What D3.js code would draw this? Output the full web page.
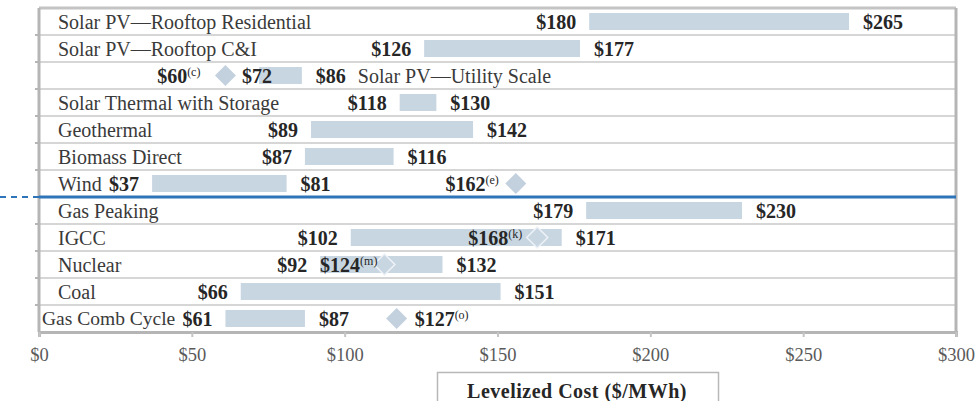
<!DOCTYPE html>
<html>
<head>
<meta charset="utf-8">
<script src="https://cdn.jsdelivr.net/npm/d3@7"></script>
<style>
  body { margin: 0; background: #fff; }
  svg { display: block; }
  text { font-family: "Liberation Serif", "DejaVu Serif", serif; }
</style>
</head>
<body>
<div id="chart"></div>
<script>
const categories = [
    "Solar PV\u2014Rooftop Residential",
    "Solar PV\u2014Rooftop C&I",
    "Solar PV\u2014Utility Scale",
    "Solar Thermal with Storage",
    "Geothermal",
    "Biomass Direct",
    "Wind",
    "Gas Peaking",
    "IGCC",
    "Nuclear",
    "Coal",
    "Gas Comb Cycle"
];
const lowValues = [180, 126, 72, 118, 89, 87, 37, 179, 102, 92, 66, 61];
const highValues = [265, 177, 86, 130, 142, 116, 81, 230, 171, 132, 151, 87];

// diamonds: row, labelled value, footnote, and where the diamond sits in the picture
const markerRows = ["Solar PV\u2014Utility Scale", "Wind", "IGCC", "Nuclear", "Gas Comb Cycle"];
const markerValues = [60, 162, 168, 124, 127];
const markerNotes = ["(c)", "(e)", "(k)", "(m)", "(o)"];
const markerDrawnAt = [61, 156, 163, 113, 117];

const tickValues = [0, 50, 100, 150, 200, 250, 300];
const axisTitle = "Levelized Cost ($/MWh)";

const width = 978, height = 401;
const barColor = "#c8d6e2";
// label offset from diamond centre (negative = label ends left of diamond)
const markerLabelGap = [-25, -17, -15, -7, 18];

const svg = d3.select("#chart").append("svg")
    .attr("width", width)
    .attr("height", height);

const x = d3.scaleLinear().domain([0, 300]).range([39, 956]);
const y = d3.scaleBand().domain(categories).range([8, 332]);
const bh = y.bandwidth() * 0.63;

// row separators
categories.forEach((c, i) => {
    if (i === 0) return;
    svg.append("line")
        .attr("x1", x(0)).attr("x2", x(300))
        .attr("y1", y(c)).attr("y2", y(c))
        .attr("stroke", "#d6d6d6").attr("stroke-width", 2);
    // little ticks on the left border
    svg.append("line")
        .attr("x1", x(0) - 4).attr("x2", x(0))
        .attr("y1", y(c)).attr("y2", y(c))
        .attr("stroke", "#b5b5b5").attr("stroke-width", 2);
});

// frame
svg.append("line").attr("x1", x(0)).attr("x2", x(300)).attr("y1", 8).attr("y2", 8)
    .attr("stroke", "#c4c4c4").attr("stroke-width", 3);
svg.append("line").attr("x1", x(0)).attr("x2", x(0)).attr("y1", 8).attr("y2", 332)
    .attr("stroke", "#b5b5b5").attr("stroke-width", 3);
svg.append("line").attr("x1", x(300)).attr("x2", x(300)).attr("y1", 8).attr("y2", 332)
    .attr("stroke", "#b5b5b5").attr("stroke-width", 3);

// blue divider between renewables and conventional
const divY = y("Gas Peaking");
svg.append("line").attr("x1", x(0)).attr("x2", x(300)).attr("y1", divY).attr("y2", divY)
    .attr("stroke", "#2e74b8").attr("stroke-width", 3);
svg.append("line").attr("x1", 0).attr("x2", x(0)).attr("y1", divY).attr("y2", divY)
    .attr("stroke", "#2e74b8").attr("stroke-width", 2).attr("stroke-dasharray", "6,5");

// bars
svg.selectAll("rect.bar")
    .data(categories)
    .join("rect")
    .attr("class", "bar")
    .attr("x", (d, i) => x(lowValues[i]))
    .attr("width", (d, i) => x(highValues[i]) - x(lowValues[i]))
    .attr("y", d => y(d) + (y.bandwidth() - bh) / 2)
    .attr("height", bh)
    .attr("fill", barColor);

const mid = d => y(d) + y.bandwidth() / 2;

// category labels
svg.selectAll("text.cat")
    .data(categories)
    .join("text")
    .attr("class", "cat")
    .attr("x", (d, i) => {
        if (d === "Gas Comb Cycle") return 42;
        if (d === "Solar PV\u2014Utility Scale") return x(highValues[i]) + 56;
        return 58;
    })
    .attr("y", d => mid(d))
    .attr("dy", "0.35em")
    .attr("font-size", d => d === "Gas Comb Cycle" ? 19.5 : 20)
    .attr("fill", "#3a3a3a")
    .text(d => d);

// low / high value labels
svg.selectAll("text.low")
    .data(categories)
    .join("text")
    .attr("class", "low")
    .attr("x", (d, i) => d === "Solar PV\u2014Utility Scale" ? x(lowValues[i]) + 13 : x(lowValues[i]) - 13)
    .attr("y", d => mid(d))
    .attr("dy", "0.35em")
    .attr("text-anchor", "end")
    .attr("font-size", 20)
    .attr("font-weight", "bold")
    .attr("fill", "#262626")
    .text((d, i) => "$" + lowValues[i]);

svg.selectAll("text.high")
    .data(categories)
    .join("text")
    .attr("class", "high")
    .attr("x", (d, i) => x(highValues[i]) + 14)
    .attr("y", d => mid(d))
    .attr("dy", "0.35em")
    .attr("font-size", 20)
    .attr("font-weight", "bold")
    .attr("fill", "#262626")
    .text((d, i) => "$" + highValues[i]);

// diamonds
const dm = 10.5;
markerRows.forEach((row, i) => {
    const cx = x(markerDrawnAt[i]);
    const cy = mid(row);
    const r = categories.indexOf(row);
    const onBar = markerDrawnAt[i] > lowValues[r] && markerDrawnAt[i] < highValues[r];
    svg.append("path")
        .attr("d", `M${cx},${cy - dm}L${cx + dm},${cy}L${cx},${cy + dm}L${cx - dm},${cy}Z`)
        .attr("fill", onBar ? barColor : "#c3d1de")
        .attr("stroke", onBar ? "#eef2f6" : "none")
        .attr("stroke-width", 1.5);

    const gap = markerLabelGap[i];
    const t = svg.append("text")
        .attr("x", cx + gap)
        .attr("y", cy)
        .attr("dy", "0.35em")
        .attr("text-anchor", gap > 0 ? "start" : "end")
        .attr("font-size", 20)
        .attr("font-weight", "bold")
        .attr("fill", "#262626");
    t.append("tspan").text("$" + markerValues[i]);
    t.append("tspan")
        .attr("font-size", 12)
        .attr("font-weight", "normal")
        .attr("baseline-shift", "super")
        .text(markerNotes[i]);
});

// x axis
const axis = svg.append("g")
    .attr("transform", "translate(0,332)")
    .call(d3.axisBottom(x).tickValues(tickValues).tickFormat(d => "$" + d).tickSize(5).tickPadding(11));
axis.select(".domain").attr("stroke", "#b5b5b5").attr("stroke-width", 3);
axis.selectAll(".tick line").attr("stroke", "#c4c4c4").attr("stroke-width", 2);
axis.selectAll(".tick text")
    .attr("font-family", "'Liberation Serif', serif")
    .attr("font-size", 18.5)
    .attr("fill", "#5a5a5a");

// axis title box
svg.append("rect")
    .attr("x", 437.5).attr("y", 372.5)
    .attr("width", 281).attr("height", 40)
    .attr("fill", "#fff")
    .attr("stroke", "#b8b8b8")
    .attr("stroke-width", 1.5);
svg.append("text")
    .attr("x", 577)
    .attr("y", 391)
    .attr("dy", "0.35em")
    .attr("text-anchor", "middle")
    .attr("font-size", 20)
    .attr("letter-spacing", 0.5)
    .attr("font-weight", "bold")
    .attr("fill", "#262626")
    .text(axisTitle);
</script>
</body>
</html>
